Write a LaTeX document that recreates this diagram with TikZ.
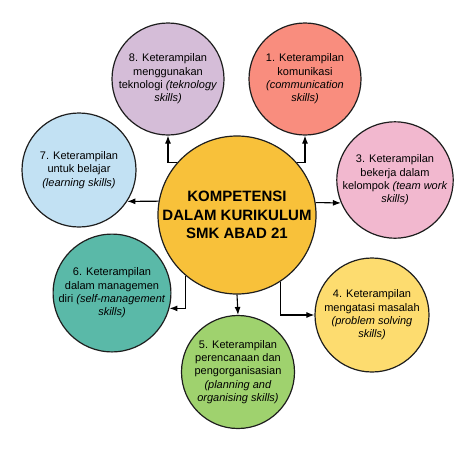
\documentclass[tikz,border=0pt]{standalone}
\usepackage{fontspec}
\setmainfont{Liberation Sans}
\usepackage{xcolor}
\usepackage{tikz}
\usetikzlibrary{arrows.meta}
\definecolor{kompetensiYellow}{HTML}{F8C13A}
\definecolor{teknoPurple}{HTML}{D5BDD8}
\definecolor{komunikasiRed}{HTML}{F98D7E}
\definecolor{belajarBlue}{HTML}{C2E1F3}
\definecolor{kelompokPink}{HTML}{F2B8CF}
\definecolor{managemenTeal}{HTML}{5AB9A8}
\definecolor{perencanaanGreen}{HTML}{9FD26E}
\definecolor{masalahYellow}{HTML}{FDDC6F}
\definecolor{rim}{HTML}{1E1E1E}

\begin{document}
\begin{tikzpicture}[x=1pt,y=-1pt,
    skill/.style = {circle,draw = rim,line width = 1.2pt,inner sep = 0pt,minimum size = 112pt,align = center,font = \fontsize{11}{13.3}\selectfont},
    >={Latex[length = 8pt,width = 6pt]}]
    \useasboundingbox (0,0) rectangle (474,451);
    \node[skill,fill = kompetensiYellow,minimum size = 158pt,font = \fontsize{15}{18.5}\selectfont\bfseries](kompetensi) at (237,215) {KOMPETENSI\\DALAM KURIKULUM\\SMK ABAD 21};

    \node[skill,fill = teknoPurple](teknologi) at (168,79) {8. Keterampilan\\menggunakan\\teknologi \textit{(teknology}\\\textit{skills)}};
    \node[skill,fill = komunikasiRed](komunikasi) at (305,79) {1. Keterampilan\\komunikasi\\\textit{(communication}\\\textit{skills)}};
    \node[skill,fill = belajarBlue,minimum size = 114pt](belajar) at (79,170) {7. Keterampilan\\untuk belajar\\\textit{(learning skills)}};
    \node[skill,fill = kelompokPink](kelompok) at (395,180) {3. Keterampilan\\bekerja dalam\\kelompok \textit{(team work}\\\textit{skills)}};
    \node[skill,fill = managemenTeal](managemen) at (112,293) {6. Keterampilan\\dalam managemen\\diri \textit{(self-management}\\\textit{skills)}};
    \node[skill,fill = perencanaanGreen,minimum size = 113pt](perencanaan) at (238,372) {5. Keterampilan\\perencanaan dan\\pengorganisasian\\\textit{(planning and}\\\textit{organising skills)}};
    \node[skill,fill = masalahYellow,minimum size = 114pt](masalah) at (372,315) {4. Keterampilan\\mengatasi masalah\\\textit{(problem solving}\\\textit{skills)}};

    \draw [->,line width = 1.1pt] (kompetensi.139) -| (teknologi.south);
    \draw [->,line width = 1.1pt] (kompetensi.41) -| (komunikasi.south);
    \draw [->,line width = 1.1pt] (kompetensi.170) -- (belajar.-33);
    \draw [->,line width = 1.1pt] (kompetensi.9.5) -- (kelompok.203);
    \draw [->,line width = 1.1pt] (kompetensi.230) |- (managemen.-15);
    \draw [->,line width = 1.1pt] (kompetensi.south) -- (perencanaan.north);
    \draw [->,line width = 1.1pt] (kompetensi.-57) |- (masalah.west);
\end{tikzpicture}
\end{document}
